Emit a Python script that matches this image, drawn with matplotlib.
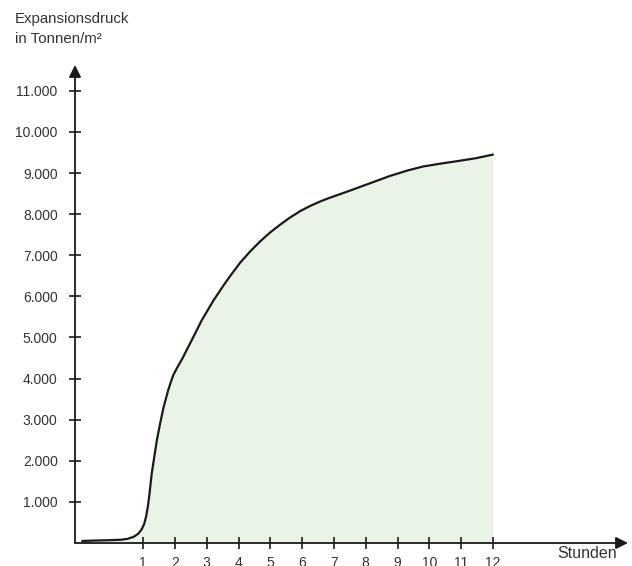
import matplotlib.pyplot as plt

plt.rcParams["font.family"] = ["Liberation Sans", "DejaVu Sans"]

# Expansion pressure (t/m²) over time (hours)
hours = [-0.92, -0.5, 0.0, 0.3, 0.5, 0.7, 0.85, 0.95, 1.03, 1.09, 1.15, 1.2,
         1.27, 1.35, 1.43, 1.53, 1.64, 1.78, 1.87, 1.95, 2.05, 2.22, 2.53,
         2.85, 3.21, 3.52, 3.74, 4.05, 4.36, 4.68, 5.0, 5.3, 5.62, 5.95, 6.25,
         6.6, 6.87, 7.2, 7.51, 7.72, 8.25, 8.76, 9.3, 9.8, 10.35, 10.87, 11.45,
         12.0]
pressure = [50, 60, 70, 80, 100, 150, 230, 330, 460, 640, 900, 1210,
            1700, 2100, 2500, 2900, 3300, 3700, 3920, 4090, 4240, 4470, 4940,
            5430, 5900, 6260, 6500, 6820, 7090, 7340, 7560, 7740, 7920, 8080, 8200,
            8320, 8400, 8490, 8575, 8635, 8785, 8930, 9060, 9160, 9230, 9290, 9360,
            9450]

x_ticks = list(range(1, 13))
y_ticks = list(range(1000, 12000, 1000))
y_labels = [f"{v // 1000}.000" for v in y_ticks]

text_col = "#333333"

fig = plt.figure(figsize=(6.32, 5.66), dpi=100)
ax = fig.add_axes([75 / 632, 23 / 566, 553 / 632, 478 / 566])

ax.fill_between(hours, pressure, 0, color="#eaf4e6", linewidth=0)
ax.plot(hours, pressure, color="#1a1a1a", linewidth=1.6,
        solid_capstyle="round", solid_joinstyle="round")

ax.set_xlim(-1.145, 16.25)
ax.set_ylim(0, 11630)

for s in ax.spines.values():
    s.set_visible(False)

# axes with arrow heads
ax.annotate("", xy=(1, 0), xytext=(0, 0), xycoords="axes fraction",
            arrowprops=dict(arrowstyle="-|>", color="#1a1a1a", lw=1.3,
                            mutation_scale=18, shrinkA=0, shrinkB=0))
ax.annotate("", xy=(0, 1), xytext=(0, 0), xycoords="axes fraction",
            arrowprops=dict(arrowstyle="-|>", color="#1a1a1a", lw=1.3,
                            mutation_scale=18, shrinkA=0, shrinkB=0))

ax.set_xticks(x_ticks)
ax.set_xticklabels([str(v) for v in x_ticks])
ax.set_yticks(y_ticks)
ax.set_yticklabels(y_labels)
ax.tick_params(direction="inout", length=9, width=1.2, color="#1a1a1a",
               labelsize=10, labelcolor=text_col)
ax.tick_params(axis="y", pad=8)
ax.tick_params(axis="x", pad=5)

fig.text(15 / 632, 1 - 23 / 566, "Expansionsdruck", ha="left", va="baseline",
         fontsize=10.8, color=text_col)
fig.text(15 / 632, 1 - 43 / 566, "in Tonnen/m²", ha="left", va="baseline",
         fontsize=10.8, color=text_col)
fig.text(617 / 632, 1 - 553 / 566, "Stunden", ha="right", va="center",
         fontsize=11.5, color=text_col)

fig.savefig("out.png", dpi=100)
